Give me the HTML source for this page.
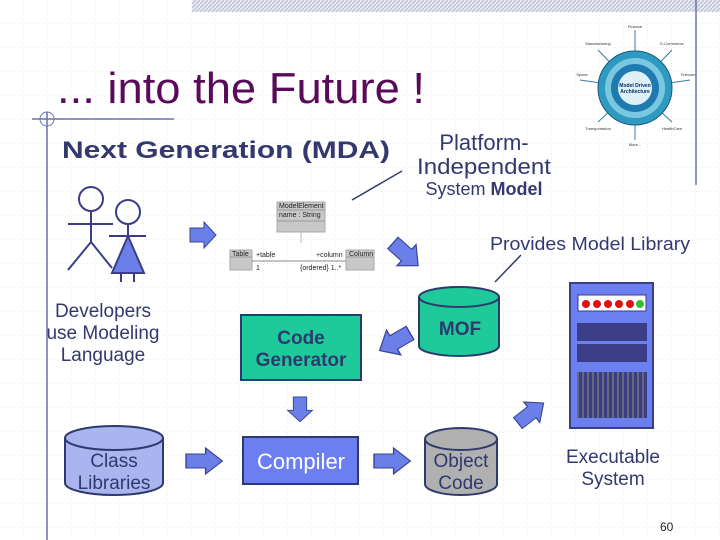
<!DOCTYPE html>
<html><head><meta charset="utf-8"><style>
html,body{margin:0;padding:0;background:#fff}
svg{display:block}
text{font-family:"Liberation Sans",sans-serif}
</style></head><body>
<svg width="720" height="540" xmlns="http://www.w3.org/2000/svg">
<defs>
<pattern id="grid" width="24" height="24" patternUnits="userSpaceOnUse">
<path d="M24 0V24M0 24H24" fill="none" stroke="#d8d8e0" stroke-width="1" stroke-dasharray="1,2"/>
</pattern>
<pattern id="hatch" width="4" height="4" patternUnits="userSpaceOnUse">
<rect width="4" height="4" fill="#e6e8f0"/><path d="M0 4L4 0" stroke="#b8bcd0" stroke-width="1"/>
</pattern>
<pattern id="vs" width="5" height="10" patternUnits="userSpaceOnUse">
<rect width="5" height="10" fill="#3b3d86"/><rect x="2" width="2" height="10" fill="#666a78"/>
</pattern>
<path id="arr" d="M0,-7 H14 V-13 L26,0 L14,13 V7 H0 Z" fill="#6b7fe8" stroke="#3b4590" stroke-width="1"/>
</defs>
<rect width="720" height="540" fill="url(#grid)"/>
<rect x="192" y="0" width="528" height="12" fill="url(#hatch)"/>
<line x1="696" y1="0" x2="696" y2="185" stroke="#6a74b0" stroke-width="1.5"/>
<line x1="47" y1="112" x2="47" y2="540" stroke="#6a74b0" stroke-width="1.5"/>
<line x1="32" y1="119" x2="174" y2="119" stroke="#6a74b0" stroke-width="1.5"/>
<circle cx="47" cy="119" r="7" fill="none" stroke="#6a74b0" stroke-width="1"/>

<text x="57" y="103" font-size="44" fill="#5a0a5a" textLength="368" lengthAdjust="spacingAndGlyphs">... into the Future !</text>
<text x="62" y="158" font-size="24" font-weight="bold" fill="#33396e" textLength="328" lengthAdjust="spacingAndGlyphs">Next Generation (MDA)</text>
<g fill="#33396e" text-anchor="middle">
<text x="484" y="150" font-size="22">Platform-</text>
<text x="484" y="174" font-size="22" textLength="134" lengthAdjust="spacingAndGlyphs">Independent</text>
<text x="484" y="195" font-size="18">System <tspan font-weight="bold">Model</tspan></text>
<text x="590" y="250" font-size="18" textLength="200" lengthAdjust="spacingAndGlyphs">Provides Model Library</text>
<text x="103" y="317" font-size="19">Developers</text>
<text x="103" y="339" font-size="19">use Modeling</text>
<text x="103" y="361" font-size="19">Language</text>
<text x="613" y="463" font-size="19">Executable</text>
<text x="613" y="485" font-size="19">System</text>
</g>
<line x1="352" y1="200" x2="402" y2="171" stroke="#33396e" stroke-width="1.5"/>
<line x1="495" y1="282" x2="521" y2="255" stroke="#33396e" stroke-width="1.5"/>

<!-- MDA globe -->
<g>
<g stroke="#3a7aa0" stroke-width="1" fill="none">
<line x1="635" y1="88" x2="635" y2="30"/><line x1="635" y1="88" x2="635" y2="140"/>
<line x1="635" y1="88" x2="580" y2="80"/><line x1="635" y1="88" x2="690" y2="80"/>
<line x1="635" y1="88" x2="598" y2="50"/><line x1="635" y1="88" x2="672" y2="50"/>
<line x1="635" y1="88" x2="598" y2="122"/><line x1="635" y1="88" x2="672" y2="122"/>
</g>
<circle cx="635" cy="88" r="37" fill="#2f9ac0" stroke="#1a5a80"/>
<circle cx="635" cy="88" r="30" fill="#7ac8e0"/>
<circle cx="635" cy="88" r="24" fill="#1e7ab0"/>
<circle cx="635" cy="88" r="17" fill="#dff0f8"/>
<text x="635" y="87" font-size="5" font-weight="bold" text-anchor="middle" fill="#003060">Model Driven</text>
<text x="635" y="93" font-size="5" font-weight="bold" text-anchor="middle" fill="#003060">Architecture</text>
<g font-size="4" fill="#333" text-anchor="middle">
<text x="635" y="28">Finance</text><text x="598" y="45">Manufacturing</text><text x="672" y="45">E-Commerce</text>
<text x="582" y="76">Space</text><text x="688" y="76">Telecom</text>
<text x="598" y="130">Transportation</text><text x="672" y="130">HealthCare</text><text x="635" y="146">More...</text>
</g>
</g>

<!-- stick figures -->
<g stroke="#3b3d86" stroke-width="2" fill="none">
<circle cx="91" cy="199" r="12"/>
<line x1="91" y1="211" x2="91" y2="242"/>
<line x1="68" y1="224" x2="113" y2="224"/>
<line x1="91" y1="242" x2="68" y2="270"/><line x1="91" y1="242" x2="112" y2="268"/>
<circle cx="128" cy="212" r="12"/>
<line x1="128" y1="224" x2="128" y2="236"/>
<line x1="109" y1="236" x2="146" y2="236"/>
<line x1="121" y1="273" x2="121" y2="282"/><line x1="134" y1="273" x2="134" y2="282"/>
</g>
<polygon points="128,236 144,273 112,273" fill="#6b7fe8" stroke="#3b3d86" stroke-width="2"/>

<!-- UML -->
<g font-size="7" fill="#222">
<rect x="277" y="202" width="48" height="30" fill="#c8c8c8" stroke="#aaa"/>
<line x1="277" y1="210" x2="325" y2="210" stroke="#999"/><line x1="277" y1="221" x2="325" y2="221" stroke="#999"/>
<text x="279" y="208">ModelElement</text><text x="279" y="217">name : String</text>
<line x1="301" y1="232" x2="301" y2="243" stroke="#bbb"/>
<rect x="230" y="250" width="22" height="20" fill="#c8c8c8" stroke="#aaa"/>
<line x1="230" y1="257" x2="252" y2="257" stroke="#999"/>
<text x="232" y="256">Table</text>
<rect x="346" y="250" width="28" height="20" fill="#c8c8c8" stroke="#aaa"/>
<line x1="346" y1="257" x2="374" y2="257" stroke="#999"/>
<text x="349" y="256">Column</text>
<line x1="252" y1="261" x2="346" y2="261" stroke="#888"/>
<text x="256" y="257">+table</text><text x="316" y="257">+column</text>
<text x="256" y="270">1</text><text x="300" y="270">{ordered} 1..*</text>
</g>

<!-- arrows -->
<use href="#arr" transform="translate(190,235)"/>
<use href="#arr" transform="translate(393,243) rotate(42) scale(1.3,1.1)"/>
<use href="#arr" transform="translate(410,333) rotate(150) scale(1.35,1.1)"/>
<use href="#arr" transform="translate(300,397) rotate(90) scale(0.95)"/>
<use href="#arr" transform="translate(186,461) scale(1.4,1)"/>
<use href="#arr" transform="translate(374,461) scale(1.4,1)"/>
<use href="#arr" transform="translate(518,423) rotate(-38) scale(1.25,1)"/>

<!-- Code Generator -->
<rect x="241" y="315" width="120" height="65" fill="#1ec99a" stroke="#2e3a6e" stroke-width="2"/>
<text x="301" y="344" font-size="19" font-weight="bold" fill="#2e3a6e" text-anchor="middle">Code</text>
<text x="301" y="366" font-size="19" font-weight="bold" fill="#2e3a6e" text-anchor="middle">Generator</text>
<!-- Compiler -->
<rect x="243" y="437" width="115" height="47" fill="#6b7ff0" stroke="#2e3a6e" stroke-width="2"/>
<text x="301" y="469" font-size="22" fill="#fff" text-anchor="middle">Compiler</text>

<!-- MOF cylinder -->
<path d="M419,297 V346 A40,10 0 0 0 499,346 V297" fill="#1ec99a" stroke="#2e3a6e" stroke-width="2"/>
<ellipse cx="459" cy="297" rx="40" ry="10" fill="#1ec99a" stroke="#2e3a6e" stroke-width="2"/>
<text x="460" y="335" font-size="19" font-weight="bold" fill="#2e3a6e" text-anchor="middle">MOF</text>
<!-- Class Libraries -->
<path d="M65,438 V483 A49,12 0 0 0 163,483 V438" fill="#aab4ee" stroke="#2e3a6e" stroke-width="2"/>
<ellipse cx="114" cy="438" rx="49" ry="12" fill="#aab4ee" stroke="#2e3a6e" stroke-width="2"/>
<text x="114" y="467" font-size="19" fill="#2e3a6e" text-anchor="middle">Class</text>
<text x="114" y="489" font-size="19" fill="#2e3a6e" text-anchor="middle">Libraries</text>
<!-- Object Code -->
<path d="M425,439 V484 A36,11 0 0 0 497,484 V439" fill="#b0b0b0" stroke="#2e3a6e" stroke-width="2"/>
<ellipse cx="461" cy="439" rx="36" ry="11" fill="#b0b0b0" stroke="#2e3a6e" stroke-width="2"/>
<text x="461" y="467" font-size="19" fill="#2e3a6e" text-anchor="middle">Object</text>
<text x="461" y="489" font-size="19" fill="#2e3a6e" text-anchor="middle">Code</text>

<!-- Server -->
<rect x="570" y="283" width="83" height="145" fill="#6b7ff0" stroke="#3b3d86" stroke-width="2"/>
<rect x="578" y="295" width="68" height="16" fill="#fff" stroke="#3b3d86"/>
<g fill="#e01010"><circle cx="586" cy="304" r="4"/><circle cx="597" cy="304" r="4"/><circle cx="608" cy="304" r="4"/><circle cx="619" cy="304" r="4"/><circle cx="630" cy="304" r="4"/></g>
<circle cx="640" cy="304" r="4" fill="#30c030"/>
<rect x="577" y="323" width="70" height="18" fill="#3b3d86"/>
<rect x="577" y="344" width="70" height="18" fill="#3b3d86"/>
<rect x="577" y="372" width="70" height="46" fill="url(#vs)"/>

<text x="660" y="531" font-size="12" fill="#222">60</text>
</svg>
</body></html>
